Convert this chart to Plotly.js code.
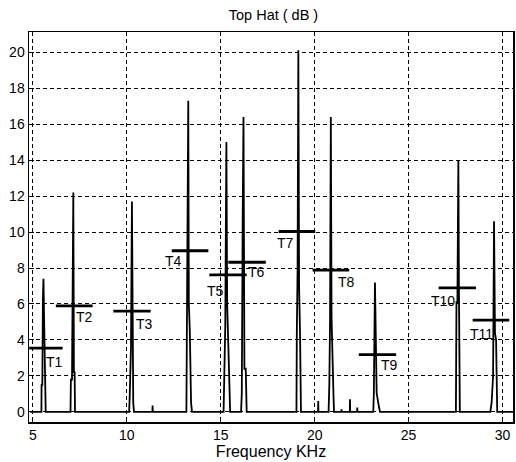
<!DOCTYPE html>
<html>
<head>
<meta charset="utf-8">
<script src="https://cdn.plot.ly/plotly-3.0.1.min.js"></script>
<style>html,body{margin:0;padding:0;background:#fff;}#chart{width:516px;height:462px;}</style>
</head>
<body>
<div id="chart"></div>
<script>
// Spectrum trace (frequency in kHz, amplitude in dB)
const freq = [4.85, 5.45, 5.46, 5.50, 5.53, 5.56, 5.60, 5.64, 5.68,
  7.00, 7.02, 7.08, 7.11, 7.15, 7.18, 7.22, 7.24,
  10.12, 10.15, 10.22, 10.27, 10.30, 10.34, 10.38,
  11.36, 11.37, 11.38,
  13.17, 13.20, 13.24, 13.27, 13.30, 13.35, 13.42, 13.47,
  15.15, 15.18, 15.24, 15.30, 15.34, 15.40, 15.46, 15.50,
  16.08, 16.12, 16.17, 16.21, 16.26, 16.33, 16.38,
  19.03, 19.05, 19.09, 19.13, 19.17, 19.22, 19.27,
  20.18, 20.19, 20.20,
  20.74, 20.78, 20.82, 20.86, 20.90, 20.95, 21.00, 21.03,
  21.42, 21.43, 21.44,
  21.87, 21.88, 21.89,
  22.26, 22.27, 22.28,
  23.12, 23.15, 23.21, 23.26, 23.30, 23.42, 23.48,
  27.52, 27.55, 27.60, 27.65, 27.68, 27.73,
  29.35, 29.42, 29.50, 29.55, 29.60, 29.66, 29.72, 30.55];
const amp = [0, 0, 1.5, 1.5, 6.3, 7.4, 4.8, 2.0, 0,
  0, 1.8, 1.8, 10.3, 12.2, 2.2, 2.2, 0,
  0, 0.8, 3.6, 11.7, 5.0, 0.5, 0,
  0, 0.35, 0,
  0, 4.5, 7.2, 17.3, 6.0, 4.6, 0.5, 0,
  0, 2.0, 4.8, 15.0, 6.0, 3.8, 0.3, 0,
  0, 1.0, 11.2, 16.4, 2.4, 2.4, 0,
  0, 4.4, 7.9, 20.1, 7.0, 4.4, 0,
  0, 0.6, 0,
  0, 1.5, 5.2, 16.4, 5.2, 2.0, 1.0, 0,
  0, 0.15, 0,
  0, 0.7, 0,
  0, 0.25, 0,
  0, 1.0, 7.2, 3.0, 1.05, 0.3, 0,
  0, 6.1, 6.1, 14.0, 7.0, 0,
  0, 0.5, 2.0, 10.6, 4.4, 4.0, 0, 0];

// Threshold levels T1..T11
const tNames = ["T1","T2","T3","T4","T5","T6","T7","T8","T9","T10","T11"];
const tStart = [4.80, 6.22, 9.28, 12.39, 14.39, 15.40, 18.08, 19.89, 22.35, 26.60, 28.41];
const tEnd   = [6.58, 8.18, 11.27, 14.34, 16.38, 17.40, 20.03, 21.84, 24.34, 28.59, 30.36];
const tLevel = [3.55, 5.90, 5.60, 8.96, 7.62, 8.32, 10.03, 7.88, 3.18, 6.90, 5.10];
const tLabelX = [6.17, 7.77, 10.93, 12.50, 14.72, 16.90, 18.47, 21.67, 23.97, 26.82, 28.87];
const tLabelY = [2.80, 5.30, 4.90, 8.40, 6.75, 7.80, 9.40, 7.20, 2.60, 6.15, 4.35];

const xTicks = [5, 10, 15, 20, 25, 30];
const yTicks = [0, 2, 4, 6, 8, 10, 12, 14, 16, 18, 20];

const traces = [{
  x: freq, y: amp, type: 'scatter', mode: 'lines',
  line: {color: '#000', width: 1.8}, hoverinfo: 'skip', showlegend: false
}];
for (let i = 0; i < tNames.length; i++) {
  traces.push({
    x: [tStart[i], tEnd[i]], y: [tLevel[i], tLevel[i]], type: 'scatter', mode: 'lines',
    line: {color: '#000', width: 2.8}, hoverinfo: 'skip', showlegend: false
  });
}
const fam = 'Liberation Sans, Arial, sans-serif';
const annotations = tNames.map((n, i) => ({
  x: tLabelX[i], y: tLabelY[i], xref: 'x', yref: 'y', text: n, showarrow: false,
  font: {family: fam, size: 14, color: '#000'}
}));

const tickFont = {family: fam, size: 14, color: '#000'};
const layout = {
  width: 516, height: 462,
  margin: {l: 29, r: 3, t: 32, b: 40, pad: 0},
  paper_bgcolor: '#fff', plot_bgcolor: '#fff',
  title: {text: 'Top Hat ( dB )', x: 0.53, xanchor: 'center', y: 0.968, yanchor: 'middle',
          font: {family: fam, size: 14.5, color: '#000'}},
  xaxis: {
    range: [4.79, 30.56], tickvals: xTicks, ticktext: xTicks.map(String),
    showgrid: true, gridcolor: '#000', gridwidth: 1, griddash: '4px,3px',
    zeroline: false, showline: true, linecolor: '#000', linewidth: 1.5, mirror: true,
    ticks: 'inside', ticklen: 5, tickcolor: '#000', tickfont: tickFont,
    title: {text: 'Frequency KHz', font: {family: fam, size: 16, color: '#000'}, standoff: 0}
  },
  yaxis: {
    range: [-0.56, 21.12], tickvals: yTicks, ticktext: yTicks.map(String),
    showgrid: true, gridcolor: '#000', gridwidth: 1, griddash: '4px,3px',
    zeroline: false, showline: true, linecolor: '#000', linewidth: 1.5, mirror: true,
    ticks: 'inside', ticklen: 5, tickcolor: '#000', tickfont: tickFont
  },
  annotations: annotations,
  showlegend: false
};
Plotly.newPlot('chart', traces, layout, {displayModeBar: false, staticPlot: true});
</script>
</body>
</html>
